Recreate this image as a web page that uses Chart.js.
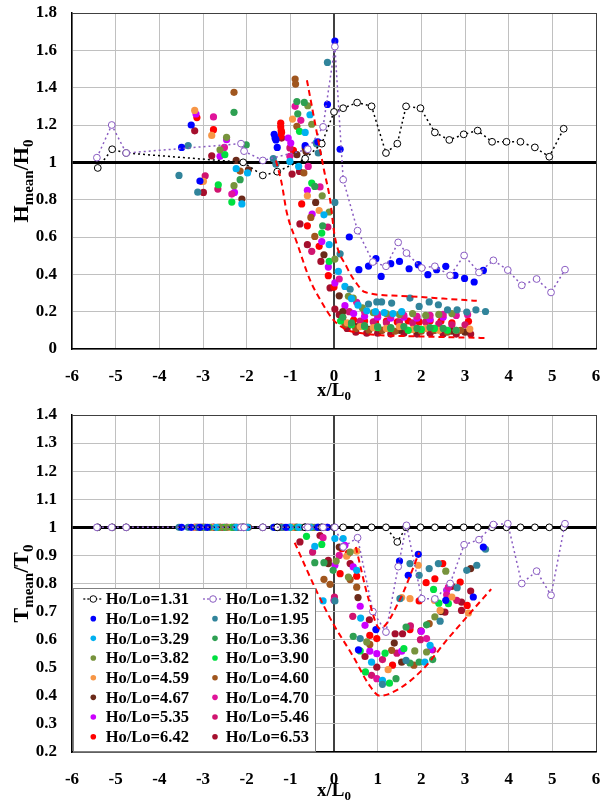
<!DOCTYPE html>
<html><head><meta charset="utf-8">
<script src="https://cdn.jsdelivr.net/npm/chart.js@4/dist/chart.umd.min.js"></script>
<style>
html,body{margin:0;padding:0;background:#fff;}
#c1{position:absolute;left:0;top:0;}
#c2{position:absolute;left:0;top:400px;}
</style></head>
<body>
<canvas id="c1" width="610" height="400"></canvas>
<canvas id="c2" width="610" height="402"></canvas>
<script>
// ---------- tick labels ----------
const xTicks = [-6,-5,-4,-3,-2,-1,0,1,2,3,4,5,6];
const xTickLabels = ['-6','-5','-4','-3','-2','-1','0','1','2','3','4','5','6'];
const hTicks = [0,0.2,0.4,0.6,0.8,1,1.2,1.4,1.6,1.8];
const hTickLabels = ['0','0.2','0.4','0.6','0.8','1','1.2','1.4','1.6','1.8'];
const tTicks = [0.2,0.3,0.4,0.5,0.6,0.7,0.8,0.9,1,1.1,1.2,1.3,1.4];
const tTickLabels = ['0.2','0.3','0.4','0.5','0.6','0.7','0.8','0.9','1','1.1','1.2','1.3','1.4'];

// ---------- series names ----------
const seriesNames = ['Ho/Lo=1.31','Ho/Lo=1.32','Ho/Lo=1.92','Ho/Lo=1.95','Ho/Lo=3.29','Ho/Lo=3.36','Ho/Lo=3.82','Ho/Lo=3.90',
  'Ho/Lo=4.59','Ho/Lo=4.60','Ho/Lo=4.67','Ho/Lo=4.70','Ho/Lo=5.35','Ho/Lo=5.46','Ho/Lo=6.42','Ho/Lo=6.53'];

// ---------- H_mean/H0 (top) ----------
const h131 = [[-5.41,0.97],[-5.08,1.07],[-4.76,1.05],[-2.08,1.0],[-1.63,0.93],[-1.30,0.95],[-0.66,1.02],[-0.28,1.10],[0.0,1.27],[0.21,1.29],[0.53,1.32],[0.86,1.30],[1.19,1.05],[1.45,1.10],[1.65,1.30],[1.98,1.29],[2.31,1.16],[2.64,1.12],[2.97,1.15],[3.29,1.17],[3.62,1.11],[3.95,1.11],[4.27,1.11],[4.60,1.08],[4.93,1.03],[5.26,1.18]];
const h132 = [[-5.43,1.025],[-5.09,1.20],[-4.76,1.05],[-2.13,1.10],[-2.06,1.06],[-1.63,1.01],[-0.60,1.07],[-0.25,1.19],[0.02,1.62],[0.21,0.907],[0.54,0.634],[0.89,0.466],[1.19,0.443],[1.47,0.571],[1.66,0.514],[2.01,0.434],[2.31,0.443],[2.66,0.394],[2.98,0.501],[3.32,0.41],[3.65,0.475],[3.98,0.423],[4.30,0.341],[4.64,0.375],[4.97,0.303],[5.29,0.425]];
const h192 = [[-3.49,1.08],[-3.27,1.20],[-3.07,0.90],[-1.37,1.15],[-1.35,1.13],[-1.33,1.12],[-1.30,1.08],[-0.66,1.09],[-0.37,1.11],[-0.15,1.31],[0.02,1.65],[0.14,1.07],[0.35,0.60],[0.57,0.425],[0.79,0.444],[0.96,0.484],[1.08,0.389],[1.30,0.457],[1.50,0.469],[1.72,0.43],[1.93,0.452],[2.15,0.398],[2.35,0.425],[2.56,0.443],[2.77,0.394],[2.99,0.378],[3.21,0.359],[3.42,0.421]];
const h195 = [[-3.55,0.93],[-3.34,1.09],[-3.12,0.84],[-1.39,1.02],[-1.33,0.99],[-0.40,1.10],[-0.36,1.05],[-0.15,1.535],[0.02,0.785],[0.14,0.51],[0.37,0.32],[0.79,0.241],[0.98,0.252],[1.09,0.252],[1.32,0.246],[1.74,0.273],[1.95,0.228],[2.18,0.252],[2.39,0.237],[2.60,0.21],[2.82,0.21],[3.04,0.198],[3.25,0.21],[3.47,0.201]];
const h329 = [[-2.24,0.966],[-2.11,0.777],[-1.98,0.943],[-1.01,1.005],[-0.81,0.978],[-0.66,1.16],[-0.55,1.255],[-0.40,1.107],[-0.23,0.719],[-0.11,0.559],[0.10,0.416],[0.25,0.335],[0.40,0.27],[0.55,0.235],[0.75,0.205],[0.95,0.20],[1.15,0.195],[1.35,0.19],[1.55,0.20]];
const h336 = [[-2.29,1.268],[-2.01,1.093],[-2.15,0.907],[-0.85,1.326],[-0.68,1.321],[-0.83,1.26],[-0.44,0.871],[-0.26,0.66],[0.20,0.17],[0.40,0.14],[0.70,0.125],[1.0,0.12],[1.30,0.115],[1.60,0.12],[1.90,0.11],[2.20,0.115],[2.50,0.11],[2.80,0.10]];
const h382 = [[-2.46,1.134],[-2.61,1.067],[-2.29,0.875],[-0.60,1.303],[-0.51,1.204],[-0.27,0.821],[-0.11,0.734],[0.02,0.482],[0.33,0.282],[0.44,0.273],[0.65,0.22],[0.90,0.195],[1.20,0.19],[1.50,0.185],[1.80,0.19],[2.10,0.18],[2.40,0.185],[2.70,0.19]];
const h390 = [[-2.50,1.041],[-2.65,0.88],[-2.34,0.787],[-0.79,1.166],[-0.51,0.889],[-0.28,0.621],[-0.11,0.469],[0.15,0.15],[0.40,0.13],[0.70,0.12],[1.0,0.115],[1.30,0.11],[1.70,0.10],[2.0,0.105],[2.30,0.11],[2.60,0.10]];
const h459 = [[-3.19,1.278],[-2.80,1.144],[-2.99,0.898],[-0.95,1.232],[-0.61,0.821],[-0.34,0.742],[0.30,0.14],[0.60,0.12],[0.90,0.115],[1.20,0.11],[1.50,0.12],[1.80,0.105],[2.10,0.11],[2.40,0.10],[2.80,0.10],[3.11,0.107]];
const h460 = [[-2.29,1.375],[-2.15,0.953],[-0.89,1.446],[-0.88,1.419],[-0.85,1.193],[-0.69,0.943],[-0.53,0.705],[-0.44,0.603],[0.25,0.13],[0.50,0.11],[0.80,0.10],[1.10,0.10],[1.40,0.095],[1.70,0.10],[2.0,0.095],[2.30,0.10],[2.60,0.09],[2.90,0.10]];
const h467 = [[-2.24,1.01],[-1.96,0.96],[-2.11,0.803],[-0.85,1.041],[-0.66,1.077],[-0.64,1.058],[-0.42,0.785],[-0.23,0.505],[0.12,0.285],[0.20,0.20],[0.50,0.12],[0.80,0.105],[1.10,0.10],[1.50,0.10],[1.90,0.095],[2.30,0.10],[2.70,0.095],[3.0,0.09]];
const h470 = [[-2.76,1.243],[-2.51,1.08],[-2.34,0.83],[-0.89,1.30],[-0.76,1.225],[-1.01,1.032],[-0.59,0.978],[-0.32,0.868],[0.12,0.375],[0.52,0.25],[0.70,0.20],[1.0,0.185],[1.30,0.18],[1.60,0.18],[1.90,0.175],[2.20,0.18],[2.50,0.185],[2.80,0.18],[3.06,0.184]];
const h535 = [[-3.16,1.259],[-2.46,1.121],[-2.61,1.032],[-2.28,0.839],[-1.05,1.13],[-0.99,1.103],[-0.61,0.85],[-0.50,0.723],[-0.28,0.576],[-0.13,0.439],[0.02,0.354],[0.25,0.232],[0.45,0.19],[0.70,0.175],[1.0,0.17],[1.30,0.165],[1.60,0.17],[1.90,0.165],[2.20,0.16],[2.50,0.17]];
const h546 = [[-2.95,0.928],[-2.66,0.857],[-1.01,1.077],[-0.14,0.653],[-0.51,0.523],[0.35,0.20],[0.60,0.15],[0.90,0.145],[1.20,0.14],[1.50,0.145],[1.80,0.14],[2.10,0.145],[2.40,0.135],[2.70,0.13],[3.0,0.13]];
const h642 = [[-3.14,1.24],[-2.76,1.175],[-3.03,0.898],[-1.22,1.21],[-1.22,1.19],[-1.21,1.17],[-1.20,1.16],[-1.22,1.14],[-0.93,1.064],[-0.74,0.777],[-0.61,0.66],[-0.34,0.55],[-0.13,0.393],[0.0,0.332],[0.20,0.17],[0.45,0.155],[0.70,0.15],[0.95,0.145],[1.20,0.15],[1.45,0.145],[1.70,0.15],[1.95,0.145],[2.20,0.15],[2.45,0.15],[2.70,0.14],[3.08,0.148]];
const h653 = [[-3.19,1.169],[-2.80,1.035],[-2.99,0.839],[-1.20,1.13],[-0.96,0.937],[-0.79,0.951],[-0.78,0.67],[-0.61,0.559],[-0.30,0.469],[-0.09,0.327],[0.02,0.214],[0.12,0.184],[0.30,0.11],[0.50,0.09],[0.75,0.085],[1.0,0.085],[1.30,0.08],[1.60,0.085],[1.90,0.08],[2.20,0.085],[2.50,0.08],[2.80,0.08],[3.13,0.08]];
// envelopes (top)
const hUpper = [[-0.62,1.44],[-0.23,0.96],[-0.09,0.80],[0.02,0.60],[0.29,0.44],[0.52,0.35],[0.71,0.305],[1.5,0.285],[2.5,0.27],[3.27,0.258]];
const hLower = [[-1.33,1.01],[-1.2,0.89],[-1.08,0.73],[-0.85,0.57],[-0.55,0.37],[-0.28,0.25],[-0.02,0.157],[0.29,0.103],[0.6,0.086],[1.0,0.075],[2.0,0.067],[3.46,0.059]];

// ---------- T_mean/T0 (bottom) ----------
const t131 = [[-5.41,1],[-5.08,1],[-4.76,1],[-2.08,1],[-1.63,1],[-1.30,1],[-0.66,1],[-0.28,1],[0.0,1],[0.21,1],[0.53,1],[0.86,1],[1.19,1],[1.45,0.948],[1.65,1],[1.98,1],[2.31,1],[2.64,1],[2.97,1],[3.29,1],[3.62,1],[3.95,1],[4.27,1],[4.60,1],[4.93,1],[5.26,1]];
const t132 = [[-5.43,1],[-5.09,1],[-4.76,1],[-2.13,1],[-2.06,1],[-1.63,1],[-0.60,1],[-0.25,1],[0.02,1],[0.21,0.93],[0.54,0.963],[0.89,0.70],[1.19,0.627],[1.47,0.86],[1.66,1.007],[2.01,0.746],[2.31,0.745],[2.66,0.80],[2.98,0.938],[3.32,0.956],[3.65,1.01],[3.98,1.013],[4.30,0.80],[4.64,0.844],[4.97,0.758],[5.29,1.013]];
const t192 = [[-3.49,1],[-3.27,1],[-3.07,1],[-2.9,1],[-1.37,1],[-1.30,1],[-1.1,1],[-0.66,1],[-0.37,1],[-0.15,1],[0.56,0.564],[0.96,0.636],[1.50,0.88],[1.70,0.829],[1.93,0.904],[2.56,0.74],[3.19,0.752],[3.42,0.93]];
const t195 = [[-3.55,1],[-3.34,1],[-3.12,1],[-2.95,1],[-1.39,1],[-1.33,1],[-1.2,1],[-0.40,1],[-0.36,1],[0.02,0.738],[0.60,0.604],[1.11,0.441],[1.51,0.746],[1.65,0.526],[1.74,0.871],[1.95,0.829],[2.18,0.853],[2.39,0.871],[2.43,0.666],[2.82,0.785],[3.04,0.847],[3.27,0.865],[3.47,0.922]];
const t329 = [[-2.24,1],[-2.11,1],[-1.98,1],[-2.7,1],[-1.01,1],[-0.81,1],[-0.66,1],[-0.55,1],[-0.44,0.932],[0.02,0.96],[0.21,0.96],[-0.25,0.738],[0.52,0.847],[0.61,0.677],[0.86,0.52],[1.11,0.455],[2.08,0.52],[2.20,0.58]];
const t336 = [[-2.29,1],[-2.01,1],[-2.15,1],[-2.85,1],[-0.85,1],[-0.68,1],[-0.3,1],[-0.44,0.874],[-0.23,0.874],[-0.02,0.847],[0.44,0.612],[1.42,0.461],[1.65,0.645],[1.74,0.517],[1.95,0.52],[2.12,0.653],[2.26,0.529]];
const t382 = [[-2.46,1],[-2.61,1],[-2.29,1],[-3.0,1],[-0.60,1],[-0.51,1],[-1.15,1],[0.05,0.88],[0.37,0.912],[0.33,0.823],[0.75,0.592],[1.85,0.56],[2.12,0.556],[2.31,0.681],[2.56,0.844]];
const t390 = [[-2.50,1],[-2.65,1],[-2.34,1],[-3.05,1],[-0.79,1],[-0.51,1],[-1.0,1],[-0.63,0.968],[-0.28,0.939],[0.60,0.56],[0.72,0.485],[1.17,0.552],[1.27,0.445],[1.60,0.568],[2.28,0.779],[2.40,0.73],[2.62,0.728]];
const t459 = [[-3.19,1],[-2.80,1],[-2.99,1],[-2.4,1],[-0.95,1],[-0.60,1],[-0.2,1],[0.29,0.897],[0.52,0.915],[1.24,0.493],[1.55,0.75],[1.74,0.746],[1.93,0.865],[2.30,0.74],[2.43,0.704],[2.70,0.752],[3.08,0.695]];
const t460 = [[-2.29,1],[-2.15,1],[-2.6,1],[-0.89,1],[-0.85,1],[-0.68,1],[-0.45,1],[-0.23,0.815],[-0.09,0.797],[0.37,0.814],[0.52,0.787],[0.82,0.583],[1.32,0.562],[1.83,0.509],[2.18,0.657]];
const t467 = [[-2.24,1],[-1.96,1],[-2.11,1],[-2.75,1],[-0.85,1],[-0.66,1],[-1.25,1],[-0.13,0.871],[0.12,0.93],[0.55,0.75],[1.38,0.588],[1.55,0.52],[2.45,0.70],[3.13,0.853]];
const t470 = [[-2.76,1],[-2.51,1],[-2.34,1],[-3.1,1],[-0.89,1],[-0.76,1],[-0.35,1],[-0.25,0.963],[0.12,0.90],[0.0,0.74],[0.98,0.461],[2.12,0.604],[2.58,0.76],[2.62,0.787]];
const t535 = [[-3.16,1],[-2.46,1],[-2.61,1],[-2.28,1],[-2.05,1],[-1.05,1],[-0.99,1],[-0.5,1],[0.25,0.936],[0.02,0.865],[0.44,0.859],[0.60,0.719],[0.71,0.651],[0.82,0.559],[0.98,0.55],[1.55,0.559],[2.0,0.63],[2.22,0.565],[2.58,0.776]];
const t546 = [[-2.95,1],[-2.66,1],[-2.2,1],[-1.01,1],[-0.7,1],[-0.15,1],[-0.49,0.912],[0.01,0.752],[0.43,0.683],[0.86,0.473],[1.11,0.529],[1.44,0.552],[1.75,0.649],[1.98,0.60],[2.26,0.564],[2.81,0.74]];
const t642 = [[-3.14,1],[-2.76,1],[-3.03,1],[-2.55,1],[-1.22,1],[-1.20,1],[-0.93,1],[-0.55,1],[0.18,0.924],[0.33,0.908],[0.14,0.835],[0.52,0.826],[0.82,0.615],[0.98,0.604],[1.34,0.509],[1.74,0.636],[1.95,0.738],[2.11,0.803],[2.31,0.817],[2.49,0.871],[2.89,0.805],[3.05,0.722]];
const t653 = [[-3.19,1],[-2.80,1],[-2.99,1],[-2.45,1],[-1.20,1],[-0.96,1],[-1.3,1],[-0.78,0.948],[-0.32,0.971],[-0.13,0.882],[0.37,0.871],[0.81,0.671],[0.71,0.54],[0.98,0.502],[1.40,0.621],[1.57,0.621],[1.99,0.631],[2.54,0.698],[2.70,0.79],[2.92,0.704],[2.92,0.734],[3.13,0.773]];
// envelopes (bottom)
const tOuter = [[-0.9,0.945],[-0.36,0.76],[-0.02,0.657],[0.44,0.54],[0.8,0.44],[1.05,0.40],[1.5,0.426],[2.05,0.497],[2.58,0.598],[3.04,0.681],[3.6,0.78]];
const tInner = [[0.5,0.93],[0.8,0.74],[1.05,0.64],[1.5,0.74],[1.95,0.91]];

// ---------- styling ----------
const colors = ['#000000','#8a5cc2','#0000ff','#31849b','#00b0f0','#2ea052','#77933c','#00e040',
  '#f79646','#a0561e','#6b2a1a','#e0149a','#cc00ff','#d01470','#ff0000','#a50f2d'];
const FONT = '"Liberation Serif","Times New Roman",serif';
const toXY = a => a.map(p => ({x:p[0], y:p[1]}));

function buildDatasets(open, filled, envs){
  const ds = [];
  envs.forEach(e => ds.push({data:toXY(e), showLine:true, borderColor:'#ff0000', borderWidth:2,
    borderDash:[6,4], pointRadius:0, fill:false, cubicInterpolationMode:'monotone'}));
  // 1.32 drawn above 1.31 (lower index is drawn on top)
  [1,0].forEach(i => ds.push({data:toXY(open[i]), showLine:true, borderColor:colors[i], borderWidth:1.5,
    borderDash:[2,3], pointRadius:3.4, pointBackgroundColor:'#fff', pointBorderColor:colors[i], pointBorderWidth:1, fill:false}));
  filled.forEach((d,i) => ds.push({data:toXY(d), showLine:false, pointRadius:3.6, pointBorderWidth:0,
    pointBackgroundColor:colors[i+2], pointBorderColor:colors[i+2]}));
  return ds;
}

function drawRich(ctx, parts, x, y, rotate){
  ctx.save();
  ctx.translate(x, y);
  if (rotate) ctx.rotate(-Math.PI/2);
  let total = 0;
  parts.forEach(p => { ctx.font = 'bold ' + p[1] + 'px ' + FONT; total += ctx.measureText(p[0]).width; });
  let cx = -total/2;
  ctx.fillStyle = '#000';
  ctx.textBaseline = 'alphabetic';
  parts.forEach(p => { ctx.font = 'bold ' + p[1] + 'px ' + FONT; ctx.fillText(p[0], cx, p[2]); cx += ctx.measureText(p[0]).width; });
  ctx.restore();
}

function titlesPlugin(yParts, xTitleY){
  return {id:'titles', afterDraw(chart){
    const ctx = chart.ctx, a = chart.chartArea;
    drawRich(ctx, [['x/L',19,0],['0',13,4]], (a.left+a.right)/2, xTitleY, false);
    drawRich(ctx, yParts, 28, (a.top+a.bottom)/2, true);
  }};
}

const legendPlugin = {id:'boxLegend', afterDraw(chart){
  const ctx = chart.ctx, a = chart.chartArea;
  const bx = 73, by = 188, bw = 243, bh = a.bottom - by;
  ctx.save();
  ctx.fillStyle = '#fff'; ctx.fillRect(bx, by, bw, bh);
  ctx.strokeStyle = '#7f7f7f'; ctx.lineWidth = 1; ctx.strokeRect(bx+0.5, by+0.5, bw-1, bh-1);
  ctx.font = 'bold 16.5px ' + FONT; ctx.textBaseline = 'middle'; ctx.fillStyle = '#000';
  seriesNames.forEach((name, i) => {
    const col = i % 2, row = Math.floor(i/2);
    const y = 199 + row*19.67;
    const mx = col ? 213 : 93.3, tx = col ? 225.7 : 105.7;
    if (i < 2){
      ctx.strokeStyle = colors[i]; ctx.lineWidth = 1.3; ctx.setLineDash([2,2]);
      ctx.beginPath(); ctx.moveTo(mx-10, y); ctx.lineTo(mx+9, y); ctx.stroke(); ctx.setLineDash([]);
      ctx.beginPath(); ctx.arc(mx, y, 3.3, 0, Math.PI*2); ctx.fillStyle='#fff'; ctx.fill(); ctx.lineWidth=1; ctx.stroke();
    } else {
      ctx.beginPath(); ctx.arc(mx + (col?2:0), y, 2.8, 0, Math.PI*2); ctx.fillStyle = colors[i]; ctx.fill();
    }
    ctx.fillStyle = '#000'; ctx.fillText(name, tx, y+1);
  });
  ctx.restore();
}};

function gridColor(edgeVals, boldVal, boldColor){
  return ctx => {
    const v = ctx.tick.value;
    if (Math.abs(v - boldVal) < 1e-9) return boldColor;
    if (edgeVals.some(e => Math.abs(v-e) < 1e-9)) return '#404040';
    return '#c0c0c0';
  };
}
function gridWidth(boldVal, w){
  return ctx => Math.abs(ctx.tick.value - boldVal) < 1e-9 ? w : 1;
}

function makeChart(id, datasets, yMin, yMax, yTicks, yLabels, padTop, xH, extraPlugins){
  return new Chart(document.getElementById(id), {
    type:'scatter',
    data:{datasets},
    options:{
      responsive:false, animation:false, devicePixelRatio:1,
      layout:{autoPadding:false, padding:{left:0, right:14, top:padTop, bottom:0}},
      plugins:{legend:{display:false}, tooltip:{enabled:false}},
      scales:{
        x:{type:'linear', min:-6, max:6,
          afterBuildTicks: s => { s.ticks = xTicks.map(v => ({value:v})); },
          afterFit: s => { s.height = xH; s.paddingLeft = 0; s.paddingRight = 0; },
          ticks:{callback:(v,i) => xTickLabels[i], color:'#000', padding:17, maxRotation:0, autoSkip:false,
            font:{family:FONT, size:17, weight:'bold'}},
          grid:{color: gridColor([6], 0, '#404040'), lineWidth: gridWidth(0, 2), drawTicks:false},
          border:{color:'#000', width:1.5}
        },
        y:{type:'linear', min:yMin, max:yMax,
          afterBuildTicks: s => { s.ticks = yTicks.map(v => ({value:v})); },
          afterFit: s => { s.width = 72; s.paddingTop = 0; s.paddingBottom = 0; },
          ticks:{callback:(v,i) => yLabels[i], color:'#000', padding:15, autoSkip:false,
            font:{family:FONT, size:17, weight:'bold'}},
          grid:{color: gridColor([yMax], 1, '#000000'), lineWidth: gridWidth(1, 3), drawTicks:false},
          border:{color:'#000', width:1.5}
        }
      }
    },
    plugins: extraPlugins
  });
}

const topDs = buildDatasets([h131,h132], [h192,h195,h329,h336,h382,h390,h459,h460,h467,h470,h535,h546,h642,h653], [hUpper,hLower]);
const botDs = buildDatasets([t131,t132], [t192,t195,t329,t336,t382,t390,t459,t460,t467,t470,t535,t546,t642,t653], [tOuter,tInner]);

makeChart('c1', topDs, 0, 1.8, hTicks, hTickLabels, 13, 51,
  [titlesPlugin([['H',22,0],['mean',15,5],['/H',22,0],['0',15,5]], 396)]);
makeChart('c2', botDs, 0.2, 1.4, tTicks, tTickLabels, 15, 50,
  [legendPlugin, titlesPlugin([['T',22,0],['mean',15,5],['/T',22,0],['0',15,5]], 396)]);
</script>
</body></html>
